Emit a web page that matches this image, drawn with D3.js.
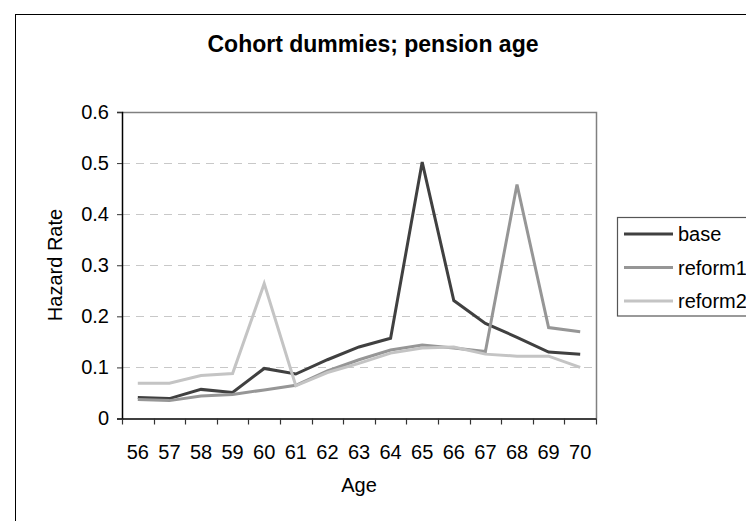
<!DOCTYPE html>
<html><head><meta charset="utf-8">
<script src="https://cdn.jsdelivr.net/npm/d3@7"></script>
<style>body{margin:0;background:#fff;} svg{display:block;font-family:"Liberation Sans",Arial,sans-serif;}</style>
</head><body>
<svg id="c" width="746" height="521"></svg>
<script>
const ages = [56,57,58,59,60,61,62,63,64,65,66,67,68,69,70];
const base    = [0.041,0.039,0.057,0.051,0.098,0.087,0.115,0.140,0.157,0.502,0.231,0.186,0.159,0.130,0.126];
const reform1 = [0.037,0.035,0.044,0.047,0.056,0.065,0.093,0.115,0.134,0.144,0.138,0.131,0.458,0.178,0.170];
const reform2 = [0.069,0.069,0.084,0.088,0.264,0.064,0.090,0.108,0.128,0.138,0.140,0.126,0.122,0.122,0.100];
const yTicks = [0,0.1,0.2,0.3,0.4,0.5,0.6];
const seriesNames = ["base","reform1","reform2"];
const seriesColors = ["#404040","#969696","#c4c4c4"];
const seriesValues = [base, reform1, reform2];

const svg = d3.select("#c");
// outer chart border
svg.append("rect").attr("x",15.5).attr("y",14.5).attr("width",760).attr("height",530)
  .attr("fill","none").attr("stroke","#000").attr("stroke-width",1);

const L=122, R=596, T=112, B=418.5;
const x = d3.scaleBand().domain(ages).range([L,R]);
const y = d3.scaleLinear().domain([0,0.6]).range([B,T]);

// gridlines
svg.append("g").selectAll("line").data(yTicks.filter(d=>d>0 && d<0.6)).join("line")
  .attr("x1",L).attr("x2",R).attr("y1",d=>Math.round(y(d))+0.5).attr("y2",d=>Math.round(y(d))+0.5)
  .attr("stroke","#c8c8c8").attr("stroke-dasharray","8,6");
// plot border top/right
svg.append("path").attr("d",`M${L},${T+0.5}H${R+0.5}V${B}`).attr("fill","none").attr("stroke","#808080").attr("stroke-width",1.5);

// y axis
const yAxis = d3.axisLeft(y).tickValues(yTicks).tickSize(5).tickPadding(8).tickFormat(d=>d===0?"0":d3.format(".1f")(d));
const gy = svg.append("g").attr("transform",`translate(${L},0)`).call(yAxis);
gy.select(".domain").attr("stroke","#000").attr("stroke-width",1.5);
gy.selectAll(".tick line").attr("stroke","#333");
gy.selectAll("text").attr("font-size",20).attr("fill","#000").attr("font-family","Liberation Sans, Arial, sans-serif");

// x axis
const xAxis = d3.axisBottom(x).tickSize(0).tickPadding(26);
const gx = svg.append("g").attr("transform",`translate(0,${B})`).call(xAxis);
gx.select(".domain").attr("stroke","#000").attr("stroke-width",1.5);
gx.selectAll("text").attr("font-size",20).attr("fill","#000").attr("font-family","Liberation Sans, Arial, sans-serif");
// x ticks at band boundaries
const bounds = ages.map(a=>x(a)).concat([R]);
gx.append("g").selectAll("line").data(bounds).join("line")
  .attr("x1",d=>Math.round(d)+0.5).attr("x2",d=>Math.round(d)+0.5).attr("y1",0).attr("y2",6)
  .attr("stroke","#333").attr("stroke-width",1.2);

// lines
const line = d3.line().x((d,i)=>x(ages[i])+x.bandwidth()/2).y(d=>y(d));
seriesValues.forEach((vals,k)=>{
  svg.append("path").datum(vals).attr("d",line).attr("fill","none")
    .attr("stroke",seriesColors[k]).attr("stroke-width",3).attr("stroke-linejoin","miter");
});
// redraw order: reform2 under? keep base on top
svg.selectAll("path").filter(function(){return false;});

// titles
svg.append("text").attr("x",373).attr("y",52).attr("text-anchor","middle")
  .attr("font-size",23).attr("font-weight","bold").text("Cohort dummies; pension age");
svg.append("text").attr("x",(L+R)/2).attr("y",492).attr("text-anchor","middle")
  .attr("font-size",20).text("Age");
svg.append("text").attr("transform",`translate(62,265) rotate(-90)`).attr("text-anchor","middle")
  .attr("font-size",20).text("Hazard Rate");

// legend
const lg = svg.append("g");
lg.append("rect").attr("x",617.5).attr("y",217.5).attr("width",200).attr("height",98.5)
  .attr("fill","#fff").attr("stroke","#555").attr("stroke-width",1.2);
seriesNames.forEach((n,k)=>{
  const yy = 234 + k*33.5;
  lg.append("line").attr("x1",624).attr("x2",673).attr("y1",yy).attr("y2",yy)
    .attr("stroke",seriesColors[k]).attr("stroke-width",3);
  lg.append("text").attr("x",678).attr("y",yy+7).attr("font-size",20).text(n);
});
</script>
</body></html>
